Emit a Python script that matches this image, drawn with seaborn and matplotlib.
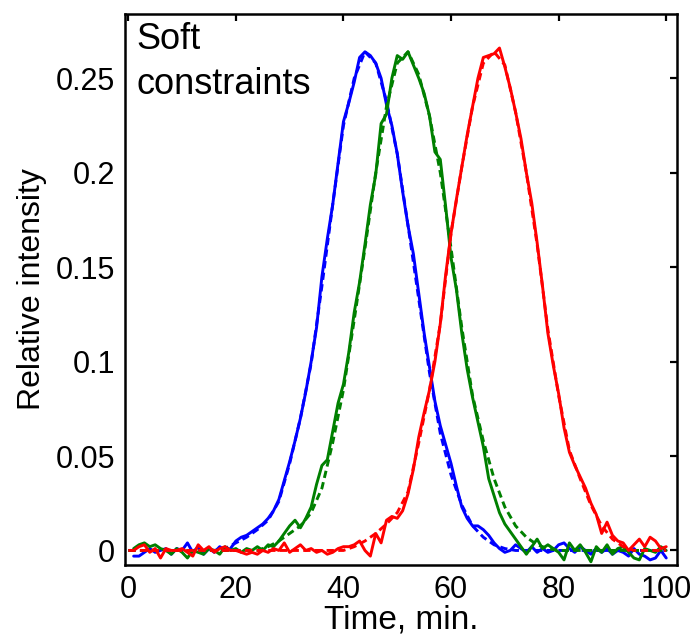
import numpy as np
import pandas as pd
import seaborn as sns
import matplotlib
matplotlib.use("Agg")
import matplotlib.pyplot as plt
from matplotlib.ticker import FixedLocator, FixedFormatter

# measured traces, one sample per minute
time = list(range(1, 101))

blue = [-0.003, -0.003, -0.001, 0.001, -0.001, 0.000, 0.001, -0.002, 0.001, 0.000,
        0.004, -0.001, 0.002, -0.002, 0.001, -0.001, 0.002, 0.000, 0.001, 0.005,
        0.007, 0.008, 0.010, 0.012, 0.014, 0.017, 0.021, 0.027, 0.037, 0.047,
        0.058, 0.070, 0.084, 0.100, 0.118, 0.145, 0.165, 0.183, 0.205, 0.227,
        0.237, 0.248, 0.261, 0.264, 0.262, 0.258, 0.250, 0.236, 0.225, 0.210,
        0.190, 0.172, 0.157, 0.136, 0.115, 0.097, 0.079, 0.066, 0.056, 0.046,
        0.034, 0.023, 0.017, 0.013, 0.013, 0.011, 0.008, 0.004, 0.001, -0.001,
        0.000, 0.003, 0.001, -0.001, 0.002, -0.001, 0.001, -0.001, 0.000, 0.003,
        0.004, 0.001, -0.001, 0.002, 0.000, -0.002, 0.001, -0.001, 0.001, -0.002,
        0.000, -0.001, -0.003, 0.001, -0.002, -0.003, -0.005, -0.004, 0.000, -0.004]

green = [0.001, 0.003, 0.004, 0.002, 0.003, 0.001, 0.000, -0.002, 0.001, -0.001,
         -0.004, 0.000, -0.001, -0.002, 0.001, 0.000, -0.002, 0.002, 0.000, 0.001,
         -0.001, 0.001, 0.000, 0.002, 0.000, 0.003, 0.002, 0.005, 0.009, 0.013,
         0.016, 0.012, 0.017, 0.023, 0.035, 0.045, 0.048, 0.063, 0.078, 0.088,
         0.105, 0.126, 0.142, 0.162, 0.183, 0.199, 0.226, 0.231, 0.250, 0.262,
         0.260, 0.264, 0.257, 0.250, 0.242, 0.230, 0.211, 0.207, 0.182, 0.155,
         0.138, 0.115, 0.096, 0.081, 0.068, 0.055, 0.038, 0.029, 0.020, 0.014,
         0.010, 0.006, 0.002, -0.002, 0.002, 0.006, 0.001, 0.003, 0.001, -0.001,
         -0.005, 0.004, 0.000, 0.003, -0.001, -0.006, 0.002, -0.001, 0.003, -0.002,
         0.001, 0.002, -0.001, -0.004, -0.005, 0.001, 0.000, -0.001, 0.002, 0.000]

red = [0.000, 0.002, 0.003, -0.001, 0.001, -0.004, 0.001, 0.000, 0.000, 0.001,
       -0.001, -0.003, 0.003, 0.000, 0.002, -0.001, 0.001, 0.002, 0.000, 0.000,
       -0.001, -0.002, -0.001, -0.002, 0.000, -0.001, 0.001, 0.000, 0.004, -0.001,
       0.001, 0.003, 0.000, 0.001, -0.001, 0.000, -0.002, -0.001, 0.001, 0.002,
       0.002, 0.003, 0.005, 0.000, -0.003, 0.009, 0.004, 0.016, 0.018, 0.017,
       0.021, 0.030, 0.043, 0.060, 0.073, 0.085, 0.100, 0.120, 0.146, 0.168,
       0.186, 0.203, 0.220, 0.235, 0.250, 0.261, 0.262, 0.263, 0.266, 0.256,
       0.245, 0.232, 0.218, 0.200, 0.184, 0.163, 0.140, 0.115, 0.098, 0.083,
       0.065, 0.052, 0.045, 0.039, 0.033, 0.025, 0.019, 0.009, 0.015, 0.008,
       0.005, 0.004, 0.000, 0.003, 0.006, 0.002, 0.007, 0.005, 0.001, 0.002]

# fitted profiles (dashed), every 2 min
fit_time = list(range(0, 101, 2))

blue_fit = [0, 0, 0, 0, 0, 0, 0, 0, 0, 0.001,
            0.004, 0.007, 0.011, 0.016, 0.026, 0.046, 0.070, 0.099, 0.140, 0.183,
            0.225, 0.250, 0.264, 0.258, 0.238, 0.210, 0.172, 0.133, 0.094, 0.062,
            0.040, 0.024, 0.013, 0.007, 0.003, 0.001, 0, 0, 0, 0,
            0, 0, 0, 0, 0, 0, 0, 0, 0, 0, 0]

green_fit = [0, 0, 0, 0, 0, 0, 0, 0, 0, 0,
             0, 0, 0, 0.002, 0.005, 0.009, 0.013, 0.020, 0.033, 0.057,
             0.085, 0.122, 0.160, 0.200, 0.235, 0.258, 0.264, 0.252, 0.230, 0.200,
             0.160, 0.118, 0.082, 0.058, 0.038, 0.023, 0.013, 0.007, 0.003, 0.001,
             0, 0, 0, 0, 0, 0, 0, 0, 0, 0, 0]

red_fit = [0, 0, 0, 0, 0, 0, 0, 0, 0, 0,
           0, 0, 0, 0, 0, 0, 0, 0, 0, 0,
           0, 0.002, 0.005, 0.009, 0.014, 0.020, 0.031, 0.057, 0.085, 0.120,
           0.168, 0.203, 0.235, 0.258, 0.264, 0.257, 0.232, 0.200, 0.162, 0.117,
           0.082, 0.053, 0.038, 0.024, 0.013, 0.006, 0.002, 0, 0, 0, 0]

x_ticks = [0, 20, 40, 60, 80, 100]
y_ticks = [0, 0.05, 0.1, 0.15, 0.2, 0.25]
y_tick_labels = ["0", "0.05", "0.1", "0.15", "0.2", "0.25"]

sns.set_style("white")
plt.rcParams["font.family"] = ["Liberation Sans", "DejaVu Sans"]
plt.rcParams["text.color"] = "black"
plt.rcParams["axes.labelcolor"] = "black"

fig = plt.figure(figsize=(6.95, 6.4), dpi=100)
ax = fig.add_axes([0.1799, 0.1172, 0.7942, 0.8609])

colors = {"blue": (0, 0, 1), "green": (0, 0.5, 0), "red": (1, 0, 0)}
measured = {"blue": blue, "green": green, "red": red}
fitted = {"blue": blue_fit, "green": green_fit, "red": red_fit}

for name in ["blue", "green", "red"]:
    sns.lineplot(x=fit_time, y=fitted[name], color=colors[name], lw=2.1,
                 linestyle=(0, (2.5, 1.5)), ax=ax)
    sns.lineplot(x=time, y=measured[name], color=colors[name], lw=2.1, ax=ax)

ax.set_xlim(-0.6, 102)
ax.set_ylim(-0.0077, 0.284)
ax.xaxis.set_major_locator(FixedLocator(x_ticks))
ax.yaxis.set_major_locator(FixedLocator(y_ticks))
ax.yaxis.set_major_formatter(FixedFormatter(y_tick_labels))

ax.tick_params(direction="in", length=5, width=1.6, labelsize=22,
               top=True, right=True, pad=7, colors="black")
for sp in ax.spines.values():
    sp.set_linewidth(1.8)
    sp.set_color("black")

ax.set_xlabel("Time, min.", fontsize=24, labelpad=0, color="black")
ax.set_ylabel("Relative intensity", fontsize=23, labelpad=6, color="black")

ax.text(0.02, 0.985, "Soft\nconstraints", transform=ax.transAxes,
        fontsize=26, va="top", ha="left", linespacing=1.35, color="black")

fig.savefig("out.png", dpi=100)
